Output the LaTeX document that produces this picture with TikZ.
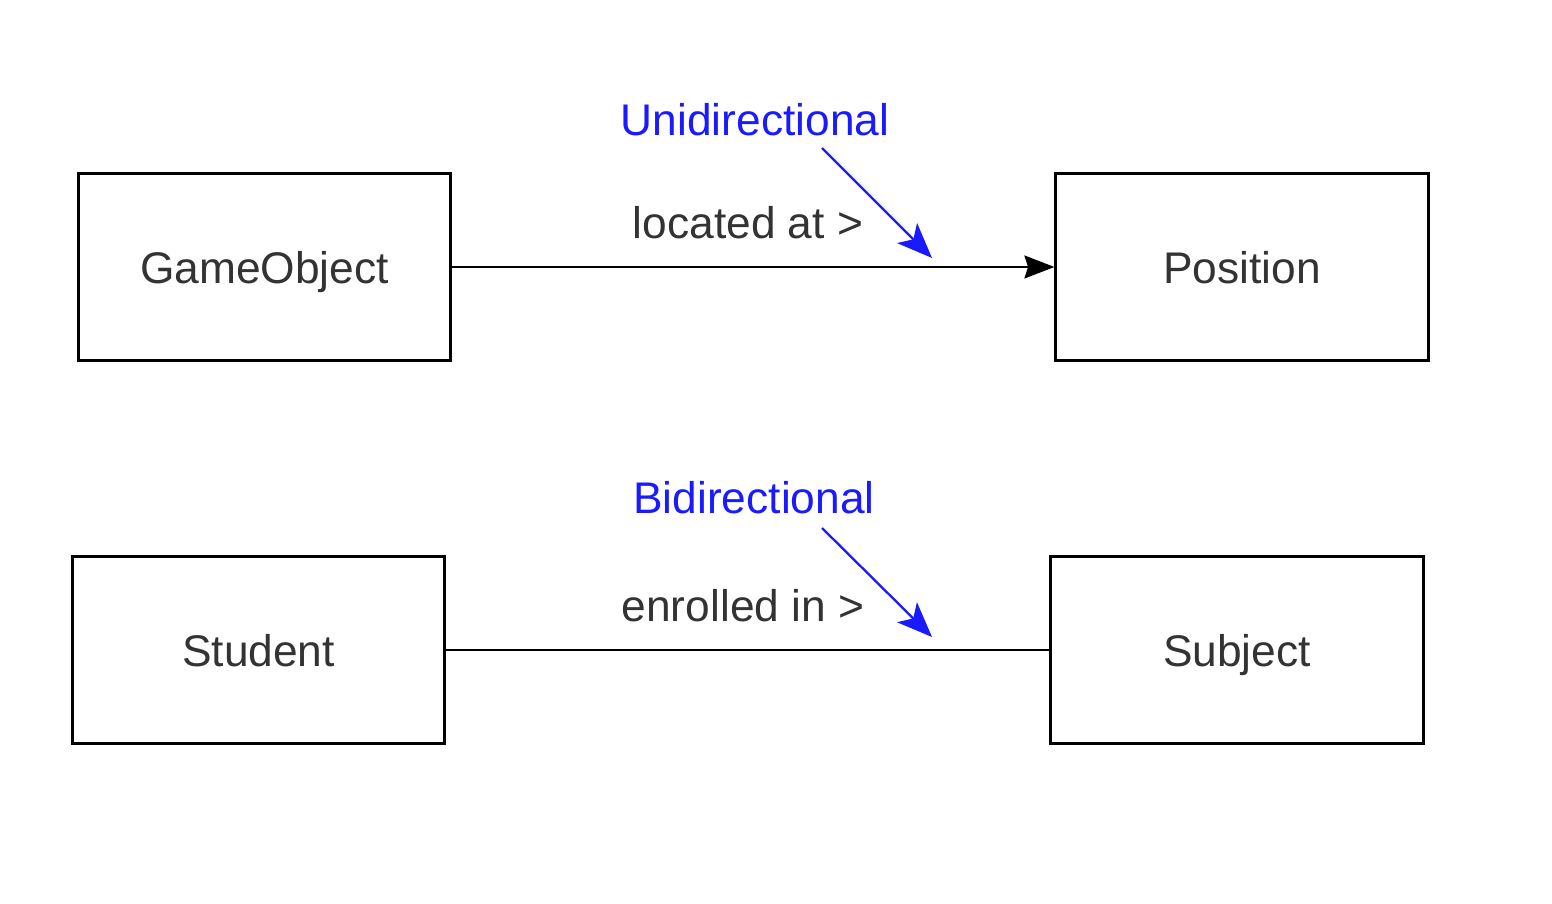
\documentclass[tikz,border=0pt]{standalone}
\usepackage{fontspec}
\setmainfont{Liberation Sans}
\usetikzlibrary{arrows.meta}
\definecolor{txtgrey}{HTML}{333333}
\definecolor{noteblue}{HTML}{1A1AFF}
\begin{document}
\begin{tikzpicture}[x=0.01cm,y=-0.01cm,
  classbox/.style={draw=black,line width=0.85pt,minimum width=3.72cm,minimum height=1.86cm,inner sep=0pt,
    text height=9.2pt,text depth=0pt,font=\fontsize{12.6pt}{14pt}\selectfont,text=txtgrey},
  lbl/.style={font=\fontsize{12.6pt}{14pt}\selectfont,text=txtgrey,inner sep=0pt},
  note/.style={font=\fontsize{12.6pt}{14pt}\selectfont,text=noteblue,inner sep=0pt},
  assoc/.style={draw=black,line width=0.75pt},
  pointer/.style={draw=noteblue,line width=0.65pt,-{Stealth[length=10pt,width=8pt,inset=2.5pt]}}]
\useasboundingbox (0,0) rectangle (1552,904);
\node[classbox] (go) at (264.5,267) {GameObject};
\node[classbox] (pos) at (1242,267) {Position};
\node[classbox] (stu) at (258.5,650) {Student};
\node[classbox] (sub) at (1237,650) {Subject};
\draw[assoc,-{Stealth[length=8.5pt,width=6.5pt,inset=1pt]}] (go) -- (pos);
\draw[assoc] (stu) -- (sub);
\node[lbl] (la) at (748,223) {located at >};
\node[lbl] (ei) at (743,606) {enrolled in >};
\node[note] (uni) at (755,120) {Unidirectional};
\node[note] (bi) at (754,498) {Bidirectional};
\coordinate (ua) at (822,148);
\coordinate (ub) at (932,258);
\coordinate (ba) at (822,528);
\coordinate (bb) at (932,637);
\draw[pointer] (ua) -- (ub);
\draw[pointer] (ba) -- (bb);
\end{tikzpicture}
\end{document}
